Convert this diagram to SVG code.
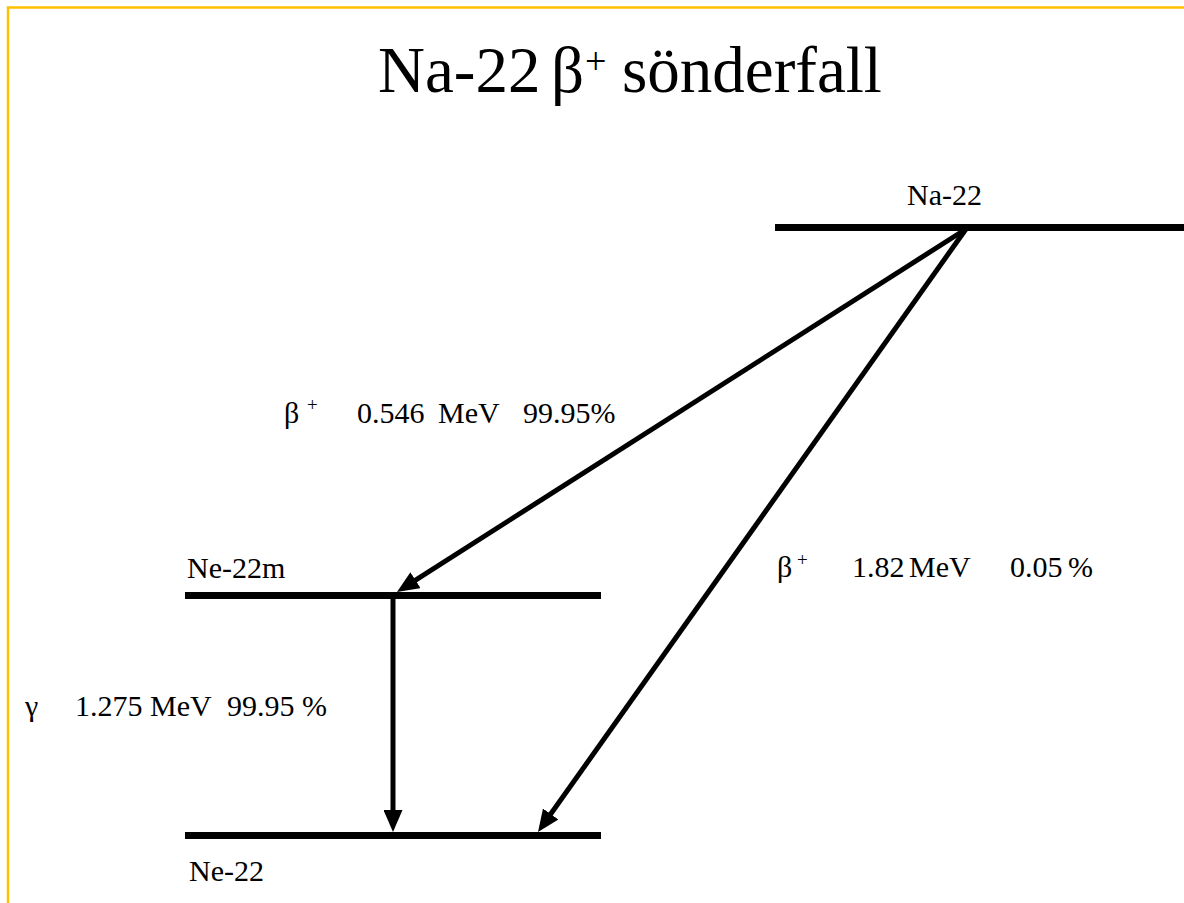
<svg xmlns="http://www.w3.org/2000/svg" width="1184" height="903" viewBox="0 0 1184 903">
  <style>
    .t { font-family: "Liberation Serif", "Times New Roman", serif; fill: #000; }
    .lbl { font-size: 30px; }
    .sup { font-size: 19px; }
    .level { stroke: #000; stroke-width: 7; fill: none; }
    .conn { stroke: #000; stroke-width: 5; fill: none; marker-end: url(#ah); }
  </style>
  <defs>
    <marker id="ah" viewBox="0 0 22 19" refX="12" refY="9.5" markerWidth="22" markerHeight="19" markerUnits="userSpaceOnUse" orient="auto">
      <path d="M0,0 L22,9.5 L0,19 z" fill="#000"/>
    </marker>
  </defs>
  <rect width="1184" height="903" fill="#fff"/>
  <path d="M8,903 V7.5 H1184" fill="none" stroke="#FFC000" stroke-width="2.5"/>

  <g id="title">
    <text class="t" y="92" font-size="65"><tspan x="378">Na-22</tspan><tspan x="551">β</tspan></text>
    <text class="t" x="585" y="74" font-size="38">+</text>
    <text class="t" x="622" y="92" font-size="65">sönderfall</text>
  </g>

  <g id="na22">
    <line class="level" x1="775" y1="227.5" x2="1184" y2="227.5"/>
    <text class="t lbl" x="907" y="205">Na-22</text>
  </g>

  <g id="ne22m">
    <line class="level" x1="185" y1="595.5" x2="601" y2="595.5"/>
    <text class="t lbl" x="187" y="578">Ne-22m</text>
  </g>

  <g id="ne22">
    <line class="level" x1="185" y1="835.5" x2="601" y2="835.5"/>
    <text class="t lbl" x="189" y="881">Ne-22</text>
  </g>

  <g id="connectors">
    <line class="conn" x1="966" y1="229" x2="405.4" y2="586.6"/>
    <line class="conn" x1="966" y1="229" x2="543.8" y2="823.8"/>
    <line class="conn" x1="393" y1="596" x2="393" y2="822"/>
  </g>

  <g id="label-beta1">
    <text class="t lbl" y="423"><tspan x="284">β</tspan><tspan x="357">0.546</tspan><tspan x="438">MeV</tspan><tspan x="523">99.95%</tspan></text>
    <text class="t sup" x="307" y="411">+</text>
  </g>

  <g id="label-beta2">
    <text class="t lbl" y="577"><tspan x="777">β</tspan><tspan x="852">1.82</tspan><tspan x="909">MeV</tspan><tspan x="1010">0.05</tspan><tspan x="1068">%</tspan></text>
    <text class="t sup" x="797" y="566">+</text>
  </g>

  <g id="label-gamma">
    <text class="t lbl" y="716"><tspan x="25">γ</tspan><tspan x="75">1.275</tspan><tspan x="150">MeV</tspan><tspan x="227">99.95</tspan><tspan x="302">%</tspan></text>
  </g>
</svg>
